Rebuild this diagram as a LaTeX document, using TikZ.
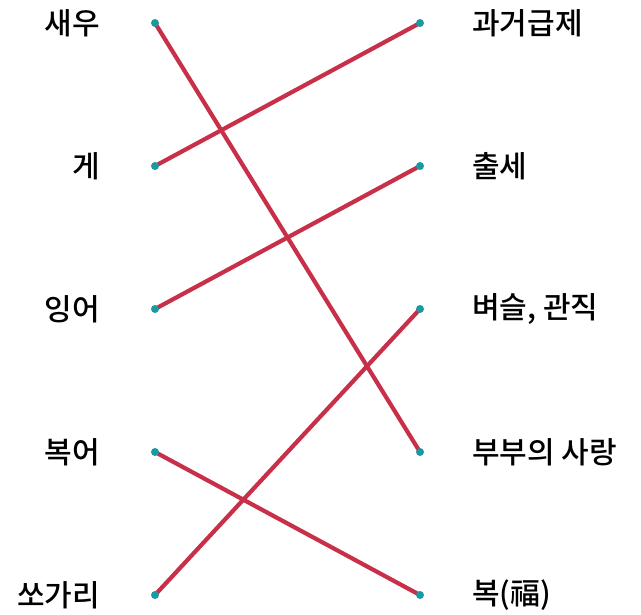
\documentclass[tikz,border=0pt]{standalone}
\usepackage{fontspec}
\newfontfamily\kofont{Noto Sans CJK KR}[UprightFont=* Medium]
\usetikzlibrary{positioning}
\definecolor{linkred}{HTML}{C8304A}
\definecolor{dotteal}{HTML}{1A9AA0}
\tikzset{
  dot/.style ={circle, fill=dotteal, minimum size=8pt, inner sep=0pt},
  link/.style={linkred, line width=4.2pt},
  lab/.style ={inner sep=0pt, font=\kofont\fontsize{30}{32}\selectfont},
}

\begin{document}
\begin{tikzpicture}[x=1pt, y=-1pt]
  \useasboundingbox (0,0) rectangle (641,615);
  % dot positions
  \coordinate (L1) at (155,23);  \coordinate (R1) at (420,23);
  \coordinate (L2) at (155,166); \coordinate (R2) at (420,166);
  \coordinate (L3) at (155,309); \coordinate (R3) at (420,309);
  \coordinate (L4) at (155,452); \coordinate (R4) at (420,452);
  \coordinate (L5) at (155,595); \coordinate (R5) at (420,595);
  % labels
  \node[lab, left=55pt of L1, anchor=east]  (fish1) {새우};
  \node[lab, left=55pt of L2, anchor=east]  (fish2) {게};
  \node[lab, left=55pt of L3, anchor=east]  (fish3) {잉어};
  \node[lab, left=55pt of L4, anchor=east]  (fish4) {복어};
  \node[lab, left=55pt of L5, anchor=east]  (fish5) {쏘가리};
  \node[lab, right=52pt of R1, anchor=west] (mean1) {과거급제};
  \node[lab, right=52pt of R2, anchor=west] (mean2) {출세};
  \node[lab, right=52pt of R3, anchor=west] (mean3) {벼슬, 관직};
  \node[lab, right=52pt of R4, anchor=west] (mean4) {부부의 사랑};
  \node[lab, right=52pt of R5, anchor=west] (mean5) {복(福)};
  % links
  \draw[link] (L1) -- (R4);
  \draw[link] (L2) -- (R1);
  \draw[link] (L3) -- (R2);
  \draw[link] (L4) -- (R5);
  \draw[link] (L5) -- (R3);
  % dots on top
  \foreach \i in {1,...,5} {
    \node[dot] (dl\i) at (L\i) {};
    \node[dot] (dr\i) at (R\i) {};
  }
\end{tikzpicture}
\end{document}
